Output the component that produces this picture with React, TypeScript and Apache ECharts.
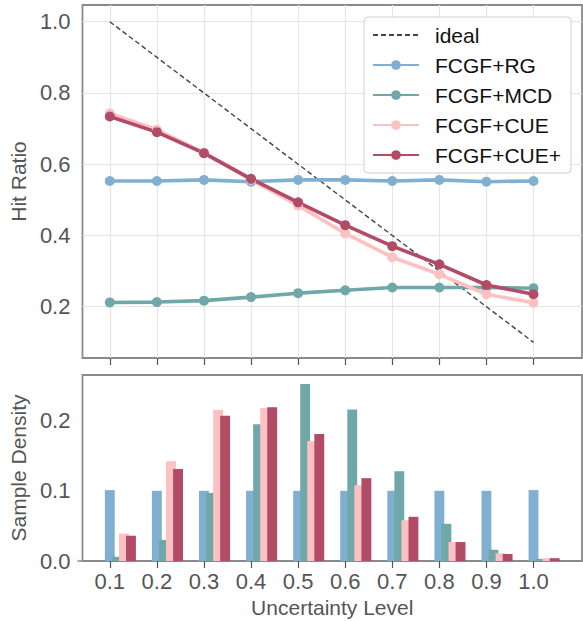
import React, { useEffect, useRef } from "react";
import * as echarts from "echarts";

const levels = [0.1, 0.2, 0.3, 0.4, 0.5, 0.6, 0.7, 0.8, 0.9, 1.0];
const idealHit = [1.0, 0.9, 0.8, 0.7, 0.6, 0.5, 0.4, 0.3, 0.2, 0.1];
const rgHit = [0.553, 0.553, 0.556, 0.551, 0.556, 0.556, 0.553, 0.556, 0.551, 0.553];
const mcdHit = [0.212, 0.213, 0.217, 0.227, 0.238, 0.246, 0.254, 0.254, 0.254, 0.252];
const cueHit = [0.743, 0.697, 0.632, 0.556, 0.484, 0.406, 0.339, 0.291, 0.235, 0.211];
const cuePlusHit = [0.734, 0.69, 0.631, 0.559, 0.493, 0.429, 0.37, 0.319, 0.261, 0.235];

const rgDensity = [0.101, 0.1, 0.1, 0.1, 0.1, 0.1, 0.1, 0.1, 0.1, 0.101];
const mcdDensity = [0.006, 0.03, 0.097, 0.195, 0.252, 0.216, 0.128, 0.053, 0.016, 0.003];
const cueDensity = [0.039, 0.142, 0.215, 0.218, 0.171, 0.108, 0.058, 0.027, 0.011, 0.004];
const cuePlusDensity = [0.036, 0.131, 0.207, 0.219, 0.181, 0.118, 0.063, 0.027, 0.01, 0.004];

const hitTicks = [0.2, 0.4, 0.6, 0.8, 1.0];
const densityTicks = [0, 0.1, 0.2];

const names = ["FCGF+RG", "FCGF+MCD", "FCGF+CUE", "FCGF+CUE+"];
const colors = ["#80afd2", "#70a8a9", "#fec1c2", "#b14b66"];

const FONT = "Liberation Sans, Arial, Helvetica, sans-serif";

export default function App() {
  const ref = useRef<HTMLDivElement>(null);
  useEffect(() => {
    if (!ref.current) return;
    const chart = echarts.init(ref.current, undefined, { renderer: "svg" });
    const pts = (ys: number[]) => levels.map((x, i) => [x, ys[i]]);
    const hitSeries = [rgHit, mcdHit, cueHit, cuePlusHit];
    const densSeries = [rgDensity, mcdDensity, cueDensity, cuePlusDensity];
    const barW = 0.021;
    const offStep = 0.015;

    const lineSeries: any[] = [
      {
        name: "ideal",
        type: "line",
        xAxisIndex: 0,
        yAxisIndex: 0,
        data: pts(idealHit),
        symbol: "none",
        lineStyle: { color: "#444", width: 1.4, type: [5, 3] },
        itemStyle: { color: "#444" },
        z: 3,
      },
      ...names.map((n, k) => ({
        name: n,
        type: "line",
        xAxisIndex: 0,
        yAxisIndex: 0,
        data: pts(hitSeries[k]),
        symbol: "circle",
        symbolSize: 10,
        lineStyle: { color: colors[k], width: 3.6 },
        itemStyle: { color: colors[k] },
        z: 4,
      })),
    ];

    const barSeries: any[] = names.map((n, k) => ({
      name: n + " density",
      type: "custom",
      xAxisIndex: 1,
      yAxisIndex: 1,
      data: pts(densSeries[k]),
      encode: { x: 0, y: 1 },
      renderItem: (params: any, api: any) => {
        const x = api.value(0) + k * offStep;
        const y = api.value(1);
        const p0 = api.coord([x - barW / 2, y]);
        const p1 = api.coord([x + barW / 2, 0]);
        return {
          type: "rect",
          shape: { x: p0[0], y: p0[1], width: p1[0] - p0[0], height: p1[1] - p0[1] },
          style: { fill: colors[k] },
        };
      },
      z: 2 + k,
    }));

    const axisLabelStyle = { color: "#555", fontSize: 22, fontFamily: FONT };
    const nameStyle = { color: "#555", fontSize: 21, fontFamily: FONT };

    chart.setOption({
      animation: false,
      backgroundColor: "#fff",
      grid: [
        { left: 80, top: 5, width: 502, height: 353, show: true, borderColor: "#8a8a8a", borderWidth: 1.8, backgroundColor: "transparent" },
        { left: 80, top: 375, width: 502, height: 186, show: true, borderColor: "#8a8a8a", borderWidth: 1.8, backgroundColor: "transparent" },
      ],
      xAxis: [
        {
          type: "value",
          gridIndex: 0,
          min: 0.042,
          max: 1.103,
          axisLine: { show: false },
          axisTick: { show: true, length: 7, lineStyle: { color: "#555", width: 1.2 }, customValues: levels },
          axisLabel: { show: false, customValues: levels },
          splitLine: { show: true, lineStyle: { color: "#e5e5e5", width: 1.2 } },
        },
        {
          type: "value",
          gridIndex: 1,
          min: 0.042,
          max: 1.103,
          axisLine: { show: false },
          axisTick: { show: true, length: 7, lineStyle: { color: "#555", width: 1.2 }, customValues: levels },
          axisLabel: { ...axisLabelStyle, margin: 9, customValues: levels, formatter: (v: number) => v.toFixed(1) },
          splitLine: { show: false },
          name: "Uncertainty Level",
          nameLocation: "middle",
          nameGap: 36,
          nameTextStyle: nameStyle,
        },
      ],
      yAxis: [
        {
          type: "value",
          gridIndex: 0,
          min: 0.056,
          max: 1.047,
          axisLine: { show: false },
          axisTick: { show: false, customValues: hitTicks },
          axisLabel: { ...axisLabelStyle, margin: 12, customValues: hitTicks, formatter: (v: number) => v.toFixed(1) },
          splitLine: { show: true, lineStyle: { color: "#e5e5e5", width: 1.2 } },
          name: "Hit Ratio",
          nameLocation: "middle",
          nameGap: 50,
          nameTextStyle: nameStyle,
        },
        {
          type: "value",
          gridIndex: 1,
          min: 0,
          max: 0.265,
          axisLine: { show: false },
          axisTick: { show: true, length: 5, lineStyle: { color: "#8a8a8a", width: 1.5 }, customValues: [0] },
          axisLabel: { ...axisLabelStyle, margin: 12, customValues: densityTicks, formatter: (v: number) => v.toFixed(1) },
          splitLine: { show: false },
          name: "Sample Density",
          nameLocation: "middle",
          nameGap: 50,
          nameTextStyle: nameStyle,
        },
      ],
      legend: {
        orient: "vertical",
        left: 364,
        top: 17,
        padding: [7, 10, 7, 8],
        itemWidth: 46,
        itemHeight: 12,
        itemGap: 8,
        backgroundColor: "rgba(255,255,255,0.85)",
        borderColor: "#d0d0d0",
        borderWidth: 1,
        borderRadius: 4,
        data: [{ name: "ideal", itemStyle: { opacity: 0 } }, ...names],
        textStyle: { color: "#111", fontSize: 21, fontFamily: FONT, lineHeight: 22, padding: [0, 0, 0, 11] },
      },
      series: [...barSeries, ...lineSeries],
    });
    return () => chart.dispose();
  }, []);
  return <div ref={ref} style={{ position: "absolute", left: 0, top: 0, width: 583, height: 621 }} />;
}
